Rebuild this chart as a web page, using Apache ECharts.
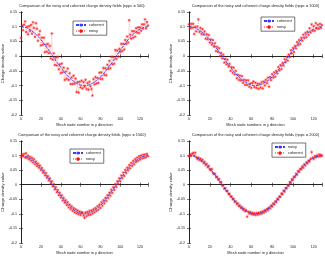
<!DOCTYPE html>
<html><head><meta charset="utf-8">
<script src="https://cdn.jsdelivr.net/npm/echarts@6/dist/echarts.min.js"></script>
<style>html,body{margin:0;padding:0;background:#fff}#c{width:325px;height:258px}</style>
</head><body><div id="c"></div>
<script>
const titles = [
  'Comparison of the noisy and coherent charge density fields (nppc = 500)',
  'Comparison of the noisy and coherent charge density fields (nppc = 1000)',
  'Comparison of the noisy and coherent charge density fields (nppc = 1500)',
  'Comparison of the noisy and coherent charge density fields (nppc = 2000)'
];
const xNames = ['Mesh node number in y direction','Mesh node numbers in y direction','Mesh node number in y direction','Mesh node number in y direction'];
const yName = 'Charge density value';
const legendOrder = [['coherent','noisy'],['coherent','noisy'],['coherent','noisy'],['noisy','coherent']];
const xTicks = [0,20,40,60,80,100,120];

const coherentNodes = [0,4,8,12,16,20,24,28,32,36,40,44,48,52,56,60,64,68,72,76,80,84,88,92,96,100,104,108,112,116,120,124,128];
const coherentValues = [0.1,0.098,0.092,0.083,0.071,0.056,0.038,0.020,0,-0.020,-0.038,-0.056,-0.071,-0.083,-0.092,-0.098,-0.1,-0.098,-0.092,-0.083,-0.071,-0.056,-0.038,-0.020,0,0.020,0.038,0.056,0.071,0.083,0.092,0.098,0.1];

const noisy500 = [0.062,0.105,0.088,0.107,0.118,0.082,0.100,0.074,0.102,0.085,0.106,0.076,0.115,0.096,0.065,0.112,0.093,0.052,0.073,0.085,
0.036,0.063,0.039,0.063,0.013,0.039,0.015,0.042,0.010,0.035,-0.008,0.077,-0.012,0.010,-0.030,-0.005,-0.032,-0.002,-0.045,-0.028,
-0.058,-0.025,-0.055,-0.039,-0.081,-0.052,-0.077,-0.042,-0.081,-0.058,-0.095,-0.072,-0.095,-0.066,-0.094,-0.076,-0.122,-0.088,-0.124,-0.087,
-0.106,-0.083,-0.110,-0.088,-0.104,-0.080,-0.112,-0.091,-0.114,-0.087,-0.102,-0.112,-0.134,-0.078,-0.096,-0.071,-0.093,-0.074,-0.091,-0.056,
-0.077,-0.055,-0.078,-0.040,-0.064,-0.041,-0.065,-0.029,-0.044,-0.016,-0.041,-0.002,-0.028,-0.003,-0.026,0.021,-0.010,0.019,-0.002,0.025,
0.014,0.042,0.017,0.042,0.022,0.055,0.041,0.067,0.046,0.122,0.073,0.059,0.085,0.062,0.085,0.066,0.095,0.080,0.098,0.078,
0.098,0.086,0.108,0.093,0.108,0.125,0.094,0.116,0.104];

const noisy1000 = [0.108,0.094,0.110,0.096,0.110,0.075,0.100,0.084,0.100,0.125,0.082,0.096,0.075,0.092,0.073,0.084,0.059,0.075,0.057,0.072,
0.046,0.057,0.039,0.055,0.032,0.044,0.017,0.032,0.014,0.027,0.000,0.011,-0.008,0.005,-0.022,-0.009,-0.028,-0.012,-0.035,-0.026,
-0.050,-0.037,-0.057,-0.039,-0.062,-0.050,-0.075,-0.063,-0.081,-0.066,-0.083,-0.068,-0.091,-0.080,-0.098,-0.082,-0.098,-0.082,-0.104,-0.093,
-0.108,-0.091,-0.086,-0.106,-0.090,-0.108,-0.094,-0.111,-0.094,-0.107,-0.088,-0.110,-0.086,-0.100,-0.080,-0.092,-0.073,-0.104,-0.071,-0.082,
-0.061,-0.073,-0.055,-0.070,-0.050,-0.059,-0.037,-0.049,-0.030,-0.044,-0.023,-0.032,-0.010,-0.021,-0.002,-0.015,0.006,-0.003,0.020,0.009,
0.028,0.014,0.035,0.026,0.048,0.037,0.055,0.041,0.062,0.052,0.073,0.061,0.079,0.064,0.083,0.072,0.095,0.080,0.108,0.086,
0.102,0.086,0.112,0.093,0.106,0.093,0.110,0.096,0.106];

const noisy1500 = [0.094,0.104,0.098,0.106,0.093,0.108,0.092,0.100,0.087,0.096,0.082,0.092,0.076,0.088,0.070,0.080,0.064,0.073,0.058,0.066,
0.050,0.058,0.041,0.049,0.032,0.040,0.024,0.030,0.014,0.022,0.004,0.012,-0.006,0.002,-0.016,-0.008,-0.026,-0.018,-0.036,-0.027,
-0.044,-0.036,-0.054,-0.045,-0.062,-0.053,-0.070,-0.060,-0.078,-0.068,-0.084,-0.074,-0.090,-0.080,-0.095,-0.084,-0.099,-0.088,-0.101,-0.092,
-0.104,-0.094,-0.096,-0.106,-0.114,-0.095,-0.108,-0.093,-0.104,-0.090,-0.103,-0.088,-0.099,-0.084,-0.095,-0.080,-0.090,-0.074,-0.086,-0.068,
-0.080,-0.060,-0.072,-0.053,-0.064,-0.045,-0.056,-0.036,-0.046,-0.027,-0.038,-0.017,-0.028,-0.008,-0.018,0.002,-0.008,0.012,0.002,0.022,
0.012,0.032,0.022,0.042,0.030,0.051,0.040,0.059,0.049,0.068,0.056,0.075,0.064,0.082,0.070,0.088,0.078,0.093,0.082,0.098,
0.086,0.100,0.090,0.103,0.092,0.104,0.094,0.106,0.098];

const noisy2000 = [0.097,0.104,0.099,0.106,0.109,0.100,0.110,0.094,0.088,0.093,0.085,0.090,0.081,0.086,0.074,0.079,0.068,0.072,0.060,0.065,
0.053,0.049,0.054,0.040,0.036,0.038,0.026,0.028,0.017,0.020,0.008,0.009,-0.003,-0.002,-0.014,-0.012,-0.022,-0.021,-0.032,-0.031,
-0.041,-0.040,-0.050,-0.048,-0.059,-0.057,-0.066,-0.064,-0.074,-0.071,-0.080,-0.077,-0.086,-0.082,-0.091,-0.087,-0.110,-0.092,-0.099,-0.094,
-0.101,-0.096,-0.103,-0.098,-0.104,-0.097,-0.103,-0.096,-0.101,-0.094,-0.099,-0.091,-0.096,-0.087,-0.092,-0.083,-0.087,-0.078,-0.082,-0.071,
-0.075,-0.064,-0.068,-0.057,-0.060,-0.048,-0.051,-0.040,-0.042,-0.030,-0.033,-0.020,-0.024,-0.011,-0.013,-0.001,-0.004,0.009,0.006,0.019,
0.016,0.028,0.026,0.038,0.034,0.047,0.044,0.055,0.052,0.063,0.058,0.070,0.066,0.077,0.073,0.083,0.079,0.089,0.112,0.092,
0.088,0.098,0.094,0.100,0.096,0.104,0.097,0.103,0.099];

const noisySets = [noisy500, noisy1000, noisy1500, noisy2000];

const layouts = [
  {left:16, top:12, width:132, height:103, legendLeft:73, legendTop:21, titleTop:4, yGap:11},
  {left:189, top:12, width:133, height:103, legendLeft:261, legendTop:17, titleTop:4, yGap:12},
  {left:16, top:141, width:132, height:102, legendLeft:70, legendTop:149, titleTop:133, yGap:11},
  {left:189, top:141, width:133, height:102, legendLeft:272, legendTop:143, titleTop:133, yGap:12}
];

const FONT = 'Liberation Sans, Arial, sans-serif';
const ink = '#1a1a1a';
const blue = '#3b3bff';
const red = '#ff1010';
const star = 'path://M5,0L5,10M0,5L10,5M1.5,1.5L8.5,8.5M8.5,1.5L1.5,8.5';

const grid = [], xAxis = [], yAxis = [], series = [], title = [], legend = [];
layouts.forEach((L, i) => {
  grid.push({left:L.left, top:L.top, width:L.width, height:L.height, show:false});
  const axLine = {show:true, lineStyle:{color:ink, width:0.8}};
  const tick = {show:true, inside:true, length:2, lineStyle:{color:ink, width:0.6}};
  xAxis.push({type:'value', gridIndex:i, position:'bottom', min:0, max:128, interval:20,
    axisLine:axLine, axisTick:tick, splitLine:{show:false},
    axisLabel:{fontSize:3.6, color:ink, fontFamily:FONT, margin:2,
      formatter: v => xTicks.indexOf(v) >= 0 ? String(v) : ''},
    name:xNames[i], nameLocation:'middle', nameGap:7.5,
    nameTextStyle:{fontSize:3.9, color:ink, fontFamily:FONT}});
  xAxis.push({type:'value', gridIndex:i, position:'top', min:0, max:128, interval:20,
    axisLine:axLine, axisTick:tick, axisLabel:{show:false}, splitLine:{show:false}});
  yAxis.push({type:'value', gridIndex:i, position:'left', min:-0.2, max:0.15, interval:0.05,
    axisLine:axLine, axisTick:tick, splitLine:{show:false},
    axisLabel:{fontSize:3.6, color:ink, fontFamily:FONT, margin:4,
      formatter: v => String(+(+v).toFixed(2))},
    name:yName, nameLocation:'middle', nameGap:L.yGap,
    nameTextStyle:{fontSize:4.2, color:ink, fontFamily:FONT}});
  yAxis.push({type:'value', gridIndex:i, position:'right', min:-0.2, max:0.15, interval:0.05,
    axisLine:axLine, axisTick:tick, axisLabel:{show:false}, splitLine:{show:false}});

  const blueName = legendOrder[i][0] + (i+1);
  const redName = legendOrder[i][1] + (i+1);
  series.push({type:'line', name:redName, xAxisIndex:2*i, yAxisIndex:2*i, z:2,
    data: noisySets[i].map((v,k)=>[k, v]), symbol:star, symbolSize:3, showSymbol:true,
    lineStyle:{color:'rgba(255,0,0,0.45)', width:0.5, type:[1,1]},
    itemStyle:{color:red, borderColor:red, borderWidth:0.45}, silent:true, animation:false});
  series.push({type:'line', name:blueName, xAxisIndex:2*i, yAxisIndex:2*i, z:3,
    data: coherentNodes.map((x,k)=>[x, coherentValues[k]]), smooth:true, symbol:'none',
    lineStyle:{color:blue, width:1, type:[3,1]}, itemStyle:{color:blue}, silent:true, animation:false});

  title.push({text:titles[i], left:L.left + L.width/2, top:L.titleTop, textAlign:'center', padding:0,
    textStyle:{fontSize:3.9, fontWeight:'normal', color:ink, fontFamily:FONT}});
  legend.push({data:[blueName, redName], orient:'vertical', left:L.legendLeft, top:L.legendTop,
    padding:[1.5,3,1.5,2], itemGap:1, itemWidth:10, itemHeight:4, selectedMode:false,
    backgroundColor:'#fff', borderColor:ink, borderWidth:0.6,
    formatter: n => n.replace(/\d/g,''),
    textStyle:{fontSize:3.8, color:ink, fontFamily:FONT, lineHeight:5, padding:[0,0,0,-2]}});
});

const chart = echarts.init(document.getElementById('c'), null, {renderer:'canvas'});
chart.setOption({backgroundColor:'#fff', animation:false, grid, xAxis, yAxis, series, title, legend});
</script></body></html>
